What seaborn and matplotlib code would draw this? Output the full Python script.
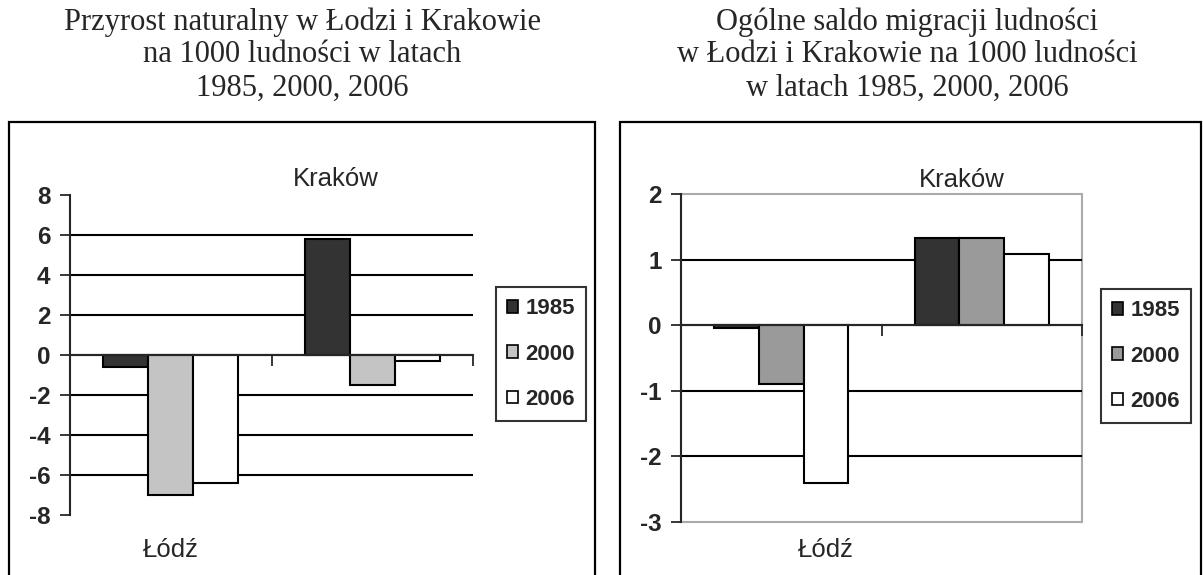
import matplotlib
matplotlib.use("Agg")
import matplotlib.pyplot as plt
import matplotlib.transforms as mtransforms
from matplotlib.patches import Patch, Rectangle
import seaborn as sns
import pandas as pd

# ---- data ----
cities = ["Łódź", "Kraków"]
years = ["1985", "2000", "2006"]
natural_lodz = [-0.6, -7.0, -6.4]
natural_krakow = [5.8, -1.5, -0.3]
migr_lodz = [-0.05, -0.9, -2.4]
migr_krakow = [1.33, 1.33, 1.09]
left_title = ["Przyrost naturalny w Łodzi i Krakowie",
              "na 1000 ludności w latach",
              "1985, 2000, 2006"]
right_title = ["Ogólne saldo migracji ludności",
               "w Łodzi i Krakowie na 1000 ludności",
               "w latach 1985, 2000, 2006"]
left_ticks = [8, 6, 4, 2, 0, -2, -4, -6, -8]
right_ticks = [2, 1, 0, -1, -2, -3]

def long_df(a, b):
    rows = []
    for c, vals in zip(cities, [a, b]):
        for y, v in zip(years, vals):
            rows.append({"city": c, "year": y, "value": v})
    return pd.DataFrame(rows)

df_nat = long_df(natural_lodz, natural_krakow)
df_mig = long_df(migr_lodz, migr_krakow)

sns.set_style("white")
plt.rcParams["font.family"] = ["Liberation Sans", "DejaVu Sans"]
plt.rcParams["axes.unicode_minus"] = False

W, H = 1203, 575
fig = plt.figure(figsize=(W / 100, H / 100), dpi=100)

def fx(px):
    return px / W

def fy(py):
    return 1 - py / H

# outer frames
for x0, x1 in [(9, 595), (620, 1201)]:
    fig.patches.append(Rectangle((fx(x0), fy(580)), fx(x1) - fx(x0), fy(122) - fy(580),
                                 transform=fig.transFigure, fill=False,
                                 edgecolor="black", linewidth=1.6))

# titles
for i, line in enumerate(left_title):
    fig.text(fx(302), fy(22 + 33 * i), line, ha="center", va="center",
             family="Liberation Serif", fontsize=22)
for i, line in enumerate(right_title):
    fig.text(fx(907), fy(22 + 33 * i), line, ha="center", va="center",
             family="Liberation Serif", fontsize=22)

pal_left = {"1985": "#333333", "2000": "#c4c4c4", "2006": "#ffffff"}
pal_right = {"1985": "#333333", "2000": "#9a9a9a", "2006": "#ffffff"}

def setup(ax, df, pal, ticks, ylim, gray_frame, lodz_xy, krakow_xy, legend_box):
    sns.barplot(data=df, x="city", y="value", hue="year", order=cities,
                hue_order=years, palette=pal, width=0.67, edgecolor="black",
                linewidth=1.5, ax=ax, legend=False, saturation=1)
    ax.set_xlim(-0.5, 1.5)
    ax.set_ylim(*ylim)
    ax.set_yticks(ticks)
    ax.set_yticklabels([str(t) for t in ticks], fontsize=17.5, fontweight="bold")
    ax.set_xlabel("")
    ax.set_ylabel("")
    ax.set_xticks([-0.5, 0.5, 1.5])
    ax.set_xticklabels([])
    ax.tick_params(axis="y", direction="out", length=7, width=1.3, pad=7, left=True)
    ax.tick_params(axis="x", direction="out", length=8, width=1.3, bottom=True)
    ax.spines["bottom"].set_position(("data", 0))
    ax.spines["bottom"].set_linewidth(1.5)
    ax.spines["left"].set_linewidth(1.5)
    ax.spines["top"].set_visible(False)
    ax.spines["right"].set_visible(False)
    ax.yaxis.grid(True, color="black", linewidth=1.5)
    ax.set_axisbelow(True)
    gl = ax.get_ygridlines()
    gl[0].set_visible(False)
    gl[-1].set_visible(False)
    if gray_frame:
        ax.add_patch(Rectangle((0, 0), 1, 1, transform=ax.transAxes, fill=False,
                               edgecolor="#aaaaaa", linewidth=1.5, zorder=0.5,
                               clip_on=False))
    trans = mtransforms.blended_transform_factory(ax.transData, ax.transAxes)
    ax.text(lodz_xy[0], lodz_xy[1], cities[0], transform=trans, ha="center",
            va="center", fontsize=18.5)
    ax.text(krakow_xy[0], krakow_xy[1], cities[1], transform=trans, ha="center",
            va="center", fontsize=18.5)
    handles = [Patch(facecolor=pal[y], edgecolor="black", linewidth=1.2, label=y)
               for y in years]
    leg = fig.legend(handles=handles, loc="center",
                     bbox_to_anchor=legend_box, bbox_transform=fig.transFigure,
                     frameon=True, fancybox=False, edgecolor="black",
                     handlelength=0.5, handleheight=0.5, handletextpad=0.35,
                     labelspacing=1.1, borderpad=0.5,
                     prop={"size": 16, "weight": "bold"})
    leg.get_frame().set_linewidth(1.5)

ax1 = fig.add_axes([fx(70), fy(515), fx(473) - fx(70), fy(195) - fy(515)])
setup(ax1, df_nat, pal_left, left_ticks, (-8, 8), False,
      (0.0, -0.109), (0.82, 1.05), (fx(541), fy(354)))

ax2 = fig.add_axes([fx(681), fy(522), fx(1082) - fx(681), fy(194) - fy(522)])
setup(ax2, df_mig, pal_right, right_ticks, (-3, 2), True,
      (0.22, -0.085), (0.90, 1.043), (fx(1146), fy(356)))

fig.savefig("out.png", dpi=100)
